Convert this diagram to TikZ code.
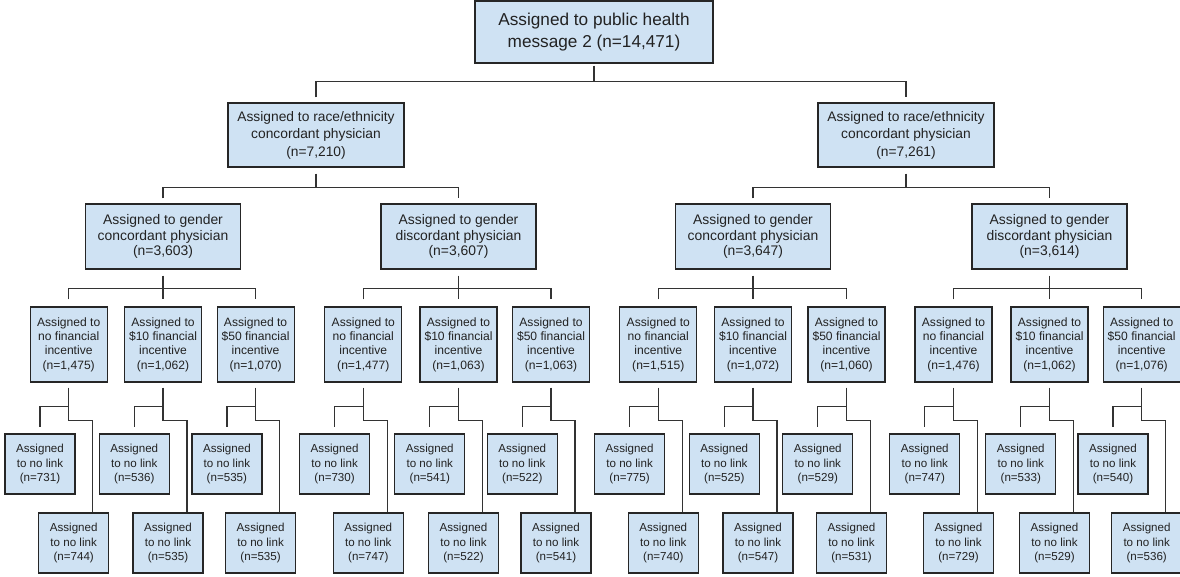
\documentclass[tikz,border=0pt]{standalone}
\usepackage{fontspec}
\setmainfont{Liberation Sans}
\usetikzlibrary{calc}
\definecolor{boxfill}{HTML}{CFE2F3}
\definecolor{boxline}{HTML}{262626}
\definecolor{conline}{HTML}{333333}
\definecolor{txt}{HTML}{222222}
\begin{document}
\begin{tikzpicture}[x=1pt,y=-1pt,
  box/.style={draw=boxline,fill=boxfill,line width=1.2pt,inner sep=0pt,align=center,text=txt},
  topbox/.style={box,minimum width=238,minimum height=62,font=\fontsize{17.2}{21.7}\selectfont},
  racebox/.style={box,minimum width=176,minimum height=64,font=\fontsize{13.8}{17.5}\selectfont},
  genbox/.style={box,minimum width=155,minimum height=65,font=\fontsize{13.9}{15.8}\selectfont},
  incbox/.style={box,minimum width=77,minimum height=75,font=\fontsize{12.1}{14.4}\selectfont},
  linkbox/.style={box,minimum width=70,minimum height=60,font=\fontsize{11.6}{14.7}\selectfont},
  con/.style={draw=conline,line width=1.2pt}]
\useasboundingbox (0,0) rectangle (1180,576);

% top
\node[topbox] (t) at (594,32) {Assigned to public health\\message 2 (n=14,471)};
% level 2
\node[racebox] (r1) at (316,135) {Assigned to race/ethnicity\\concordant physician\\(n=7,210)};
\node[racebox] (r2) at (906,135) {Assigned to race/ethnicity\\concordant physician\\(n=7,261)};
% level 3
\node[genbox] (g1) at (163,236.5) {Assigned to gender\\concordant physician\\(n=3,603)};
\node[genbox] (g2) at (458.5,236.5) {Assigned to gender\\discordant physician\\(n=3,607)};
\node[genbox] (g3) at (753,236.5) {Assigned to gender\\concordant physician\\(n=3,647)};
\node[genbox] (g4) at (1049.5,236.5) {Assigned to gender\\discordant physician\\(n=3,614)};

% level 4 and 5
\foreach \i/\c/\k/\n/\u/\l in {
  1/68.7/{no}/{1,475}/731/744,
  2/163/{\$10}/{1,062}/536/535,
  3/255.6/{\$50}/{1,070}/535/535,
  4/363.3/{no}/{1,477}/730/747,
  5/458.5/{\$10}/{1,063}/541/522,
  6/551/{\$50}/{1,063}/522/541,
  7/658.3/{no}/{1,515}/775/740,
  8/753/{\$10}/{1,072}/525/547,
  9/846.5/{\$50}/{1,060}/529/531,
  10/953.5/{no}/{1,476}/747/729,
  11/1049.5/{\$10}/{1,062}/533/529,
  12/1141.7/{\$50}/{1,076}/540/536}{
  \node[incbox] (f\i) at (\c,344.5) {Assigned to\\\k{} financial\\incentive\\(n=\n)};
  \node[linkbox] (a\i) at (\c-28.7,464) {Assigned\\to no link\\(n=\u)};
  \node[linkbox] (b\i) at (\c+5,543) {Assigned\\to no link\\(n=\l)};
  \draw[con] ($(f\i.south)+(0,5)$) |- ($(b\i.north)+(19,-92)$) -- ($(b\i.north)+(19,0)$);
  \draw[con] ($(f\i.south)+(0,24)$) -| ($(a\i.north)+(0,-6)$);
}

% top -> level 2
\draw[con] ($(t.south)+(0,2)$) -- ($(t.south)+(0,18)$);
\draw[con] ($(r1.north)+(0,-5)$) |- ($(t.south)+(0,18)$) -| ($(r2.north)+(0,-5)$);
% level 2 -> level 3
\draw[con] ($(r1.south)+(0,6)$) -- ($(r1.south)+(0,20)$);
\draw[con] ($(g1.north)+(0,-5)$) |- ($(r1.south)+(0,20)$) -| ($(g2.north)+(0,-5)$);
\draw[con] ($(r2.south)+(0,6)$) -- ($(r2.south)+(0,20)$);
\draw[con] ($(g3.north)+(0,-5)$) |- ($(r2.south)+(0,20)$) -| ($(g4.north)+(0,-5)$);
% level 3 -> level 4
\foreach \g/\l/\m/\r in {g1/f1/f2/f3, g2/f4/f5/f6, g3/f7/f8/f9, g4/f10/f11/f12}{
  \draw[con] ($(\g.south)+(0,6)$) -- ($(\m.north)+(0,-7)$);
  \draw[con] ($(\l.north)+(0,-7)$) |- ($(\g.south)+(0,19)$) -| ($(\r.north)+(0,-7)$);
}
\end{tikzpicture}
\end{document}
